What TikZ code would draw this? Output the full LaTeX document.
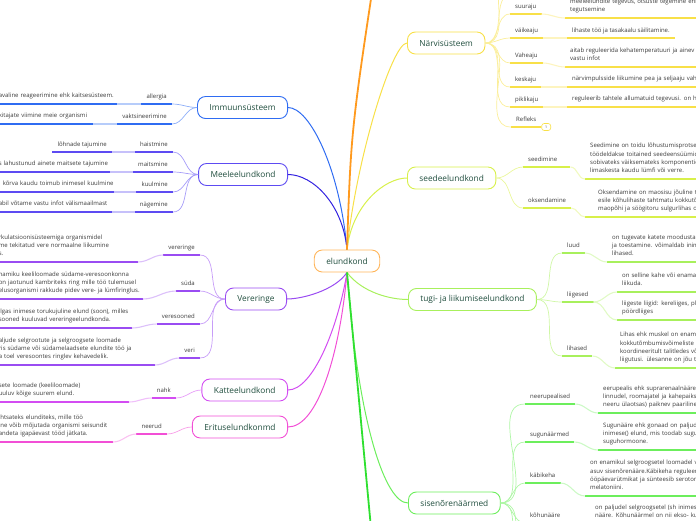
\documentclass[tikz,border=0pt]{standalone}
\usepackage{fontspec}
\setmainfont{Open Sans}
\usetikzlibrary{calc}
\hyphenpenalty=10000
\exhyphenpenalty=10000

\definecolor{clrText}{HTML}{1F4D3D}
\definecolor{clrLeaf}{HTML}{3A3A3A}
\definecolor{clrRoot}{HTML}{FFB65C}
\definecolor{clrRootLn}{HTML}{FF9A1E}
\definecolor{clrImmu}{HTML}{2F6CF2}
\definecolor{clrMeele}{HTML}{5D4BF2}
\definecolor{clrMeeleLn}{HTML}{3322E0}
\definecolor{clrVere}{HTML}{9A4CF2}
\definecolor{clrKatte}{HTML}{D34CF2}
\definecolor{clrErit}{HTML}{F24FD6}
\definecolor{clrNerv}{HTML}{F8E048}
\definecolor{clrSeede}{HTML}{D8F04A}
\definecolor{clrTugi}{HTML}{A8F05C}
\definecolor{clrSise}{HTML}{6CEE5C}
\definecolor{clrSiseLn}{HTML}{2FE030}
\colorlet{br}{black}

\tikzstyle{mainbox}=[draw, rounded corners=8pt, fill=white, line width=0.9pt,
minimum height=22pt, inner xsep=12pt, text=clrText, font=\fontsize{8.3}{10}\selectfont]
\tikzstyle{uline}=[draw=br, line width=1.6pt]
\tikzstyle{leaf}=[inner xsep=5pt, inner ysep=2.9pt, text=clrLeaf, font=\fontsize{6}{8.4}\selectfont,
execute at end node=\strut,
append after command={(\tikzlastnode.south west) edge[uline] (\tikzlastnode.south east)}]
\tikzstyle{leaf_l}=[leaf, anchor=south east]
\tikzstyle{leaf_r}=[leaf, anchor=south west]
\tikzstyle{note_l}=[leaf_l, inner xsep=0pt, inner ysep=3.3pt, align=left] % cut by the left border
\tikzstyle{note_r}=[leaf_r, inner ysep=3.3pt, align=left, text width=160pt] % cut by the right border
\tikzstyle{link}=[line width=1pt]
\tikzstyle{trunk}=[line width=1.8pt]
\tikzstyle{twig}=[draw=br!55, line width=0.7pt]
\tikzstyle{twig_lt}=[draw=br!35, line width=1.1pt]

\begin{document}
\begin{tikzpicture}[x=1pt, y=-1pt]
	\useasboundingbox (0,0) rectangle (696,520);

	\node[mainbox, draw=clrRoot] (root) at (347,261) {elundkond};

	\node[mainbox, draw=clrImmu, anchor=east] (immu) at (288,107.5) {Immuunsüsteem};
	\draw[link, clrImmu] (root.north) .. controls ($(root.north)+(-7,-80)$) and ($(immu.east)+(22,0)$) .. (immu.east);

	\node[mainbox, draw=clrMeele, anchor=east] (meele) at (288,174.5) {Meeleelundkond};
	\draw[link, clrMeeleLn] (root.north) .. controls ($(root.north)+(-4,-45)$) and ($(meele.east)+(25,0)$) .. (meele.east);

	\node[mainbox, draw=clrNerv, anchor=west] (nerv) at (407,43) {Närvisüsteem};
	\draw[link, clrNerv] (root.north) .. controls ($(root.north)+(9,-90)$) and ($(nerv.west)+(-15,0)$) .. (nerv.west);

	\node[mainbox, draw=clrSeede, anchor=west] (seede) at (407,178) {seedeelundkond};
	\draw[link, clrSeede] (root.north) .. controls ($(root.north)+(5,-45)$) and ($(seede.west)+(-22,0)$) .. (seede.west);

	\node[mainbox, draw=clrVere, anchor=east] (vere) at (287,299) {Vereringe};
	\draw[link, clrVere] (root.south) .. controls ($(root.south)+(-12,18)$) and ($(vere.east)+(15,0)$) .. (vere.east);

	\node[mainbox, draw=clrKatte, anchor=east] (katte) at (288,390) {Katteelundkond};
	\draw[link, clrKatte] (root.south) .. controls ($(root.south)+(-9,55)$) and ($(katte.east)+(25,0)$) .. (katte.east);

	\node[mainbox, draw=clrErit, anchor=east] (erit) at (288,427) {Erituselundkonmd};
	\draw[link, clrErit] (root.south) .. controls ($(root.south)+(-7,80)$) and ($(erit.east)+(30,0)$) .. (erit.east);

	\node[mainbox, draw=clrTugi, anchor=west] (tugi) at (408,299.5) {tugi- ja liikumiseelundkond};
	\draw[link, clrTugi] (root.south) .. controls ($(root.south)+(15,20)$) and ($(tugi.west)+(-18,0)$) .. (tugi.west);

	\node[mainbox, draw=clrSise, anchor=west] (sise) at (408,503) {sisenõrenäärmed};
	\draw[link, clrSise] (root.south) .. controls ($(root.south)+(11,150)$) and ($(sise.west)+(-23,0)$) .. (sise.west);

	% branches leaving the page
	\coordinate (up) at (380,-60);
	\draw[trunk, clrRootLn] (root.north) .. controls ($(root.north)+(4,-120)$) .. (up);
	\coordinate (down) at (374,560);
	\draw[trunk, clrSiseLn] (root.south) -- (down);

	% Immuunsüsteem
	\begin{scope}
		\colorlet{br}{clrImmu}
		\node[leaf_l] (im1) at (172,104) {allergia};
		\draw[twig] (immu.west) to[out=180,in=0] (im1.south east);
		\node[note_l, text width=118pt] (im1n) at (117,104) {\mbox{avaline reageerimine ehk kaitsesüsteem.}};
		\draw[twig_lt] (im1.south west) -- (im1n.south east);

		\node[leaf_l] (im2) at (172,124) {vaktsineerimine};
		\draw[twig] (immu.west) to[out=180,in=0] (im2.south east);
		\node[note_l, text width=94pt] (im2n) at (93,124) {\mbox{kitajate viimine meie organismi}};
		\draw[twig_lt] (im2.south west) -- (im2n.south east);
	\end{scope}

	% Meeleelundkond
	\begin{scope}
		\colorlet{br}{clrMeele}
		\node[leaf_l] (me1) at (173,152) {haistmine};
		\draw[twig] (meele.west) to[out=180,in=0] (me1.south east);
		\node[leaf_l] (me1n) at (112,152) {lõhnade tajumine};
		\draw[twig_lt] (me1.south west) -- (me1n.south east);

		\node[leaf_l] (me2) at (173,172) {maitsmine};
		\draw[twig] (meele.west) to[out=180,in=0] (me2.south east);
		\node[note_l, text width=111pt] (me2n) at (110,172) {\mbox{s lahustunud ainete maitsete tajumine}};
		\draw[twig_lt] (me2.south west) -- (me2n.south east);

		\node[leaf_l] (me3) at (173,192) {kuulmine};
		\draw[twig] (meele.west) to[out=180,in=0] (me3.south east);
		\node[note_l, text width=115pt] (me3n) at (114,192) {\mbox{\hspace*{4pt}kõrva kaudu toimub inimesel kuulmine}};
		\draw[twig_lt] (me3.south west) -- (me3n.south east);

		\node[leaf_l] (me4) at (173,212) {nägemine};
		\draw[twig] (meele.west) to[out=180,in=0] (me4.south east);
		\node[note_l, text width=113pt] (me4n) at (112,212) {\mbox{abil võtame vastu infot välismaailmast}};
		\draw[twig_lt] (me4.south west) -- (me4n.south east);
	\end{scope}

	% Vereringe
	\begin{scope}
		\colorlet{br}{clrVere}
		\node[leaf_l] (ve1) at (200,255) {vereringe};
		\draw[twig] (vere.west) to[out=180,in=0] (ve1.south east);
		\node[note_l, text width=139pt] (ve1n) at (138,262) {\mbox{rkulatsioonisüsteemiga organismidel}\\\mbox{me tekitatud vere normaalne liikumine}\\s.};
		\draw[twig_lt] (ve1.south west) to[out=180,in=0] (ve1n.south east);

		\node[leaf_l] (ve2) at (200,291) {süda};
		\draw[twig] (vere.west) to[out=180,in=0] (ve2.south east);
		\node[note_l, text width=144pt] (ve2n) at (143,299) {\mbox{namiku keeliloomade südame-veresoonkonna}\\\mbox{on jaotunud kambriteks ring mille töö tulemusel}\\\mbox{elusorganismi rakkude pidev vere- ja lümfiringlus.}};
		\draw[twig_lt] (ve2.south west) to[out=180,in=0] (ve2n.south east);

		\node[leaf_l] (ve3) at (200,324) {veresooned};
		\draw[twig] (vere.west) to[out=180,in=0] (ve3.south east);
		\node[note_l, text width=133pt] (ve3n) at (132,328) {\mbox{ilgas inimese torukujuline elund (soon), milles}\\\mbox{sooned kuuluvad vereringeelundkonda.}};
		\draw[twig_lt] (ve3.south west) to[out=180,in=0] (ve3n.south east);

		\node[leaf_l] (ve4) at (200,358) {veri};
		\draw[twig] (vere.west) to[out=180,in=0] (ve4.south east);
		\node[note_l, text width=156pt] (ve4n) at (155,365) {\mbox{aljude selgrootute ja selgroogsete loomade}\\\mbox{ris südame või südamelaadsete elundite töö ja}\\\mbox{a toel veresoontes ringlev kehavedelik.}};
		\draw[twig_lt] (ve4.south west) to[out=180,in=0] (ve4n.south east);
	\end{scope}

	% Katteelundkond
	\begin{scope}
		\colorlet{br}{clrKatte}
		\node[leaf_l] (ka1) at (176,398) {nahk};
		\draw[twig] (katte.west) to[out=180,in=0] (ka1.south east);
		\node[note_l, text width=130pt] (ka1n) at (129,402) {\mbox{sete loomade (keeliloomade)}\\\mbox{uuluv kõige suurem elund.}};
		\draw[twig_lt] (ka1.south west) to[out=180,in=0] (ka1n.south east);
	\end{scope}

	% Erituselundkond
	\begin{scope}
		\colorlet{br}{clrErit}
		\node[leaf_l] (er1) at (167,434) {neerud};
		\draw[twig] (erit.west) to[out=180,in=0] (er1.south east);
		\node[note_l, text width=114pt] (er1n) at (113,442) {\mbox{ihtsateks elunditeks, mille töö}\\\mbox{ine võib mõjutada organismi seisundit}\\\mbox{andeta igapäevast tööd jätkata.}};
		\draw[twig_lt] (er1.south west) to[out=180,in=0] (er1n.south east);
	\end{scope}

	% Närvisüsteem
	\begin{scope}
		\colorlet{br}{clrNerv}
		\coordinate (nv0) at (512,-6);
		\coordinate (nv00) at (512,-30);
		\draw[twig] (nerv.east) to[out=0,in=180] (nv0);
		\draw[twig] (nerv.east) to[out=0,in=180] (nv00);

		\node[leaf_r] (nv1) at (510,14) {suuraju};
		\draw[twig] (nerv.east) to[out=0,in=180] (nv1.south west);
		\node[note_r] (nv1n) at (565,18) {meeleelundite tegevus, otsuste tegemine ehk\\tegutsemine};
		\draw[twig_lt] (nv1.south east) to[out=0,in=180] (nv1n.south west);

		\node[leaf_r] (nv2) at (510,38) {väikeaju};
		\draw[twig] (nerv.east) to[out=0,in=180] (nv2.south west);
		\node[leaf_r] (nv2n) at (567,38) {lihaste töö ja tasakaalu säilitamine.};
		\draw[twig_lt] (nv2.south east) -- (nv2n.south west);

		\node[leaf_r] (nv3) at (510,63) {Vaheaju};
		\draw[twig] (nerv.east) to[out=0,in=180] (nv3.south west);
		\node[note_r] (nv3n) at (565,67) {aitab reguleerida kehatemperatuuri ja ainev\\vastu infot};
		\draw[twig_lt] (nv3.south east) to[out=0,in=180] (nv3n.south west);

		\node[leaf_r] (nv4) at (510,87) {keskaju};
		\draw[twig] (nerv.east) to[out=0,in=180] (nv4.south west);
		\node[note_r] (nv4n) at (567,87) {närvimpulsside liikumine pea ja seljaaju vahe};
		\draw[twig_lt] (nv4.south east) -- (nv4n.south west);

		\node[leaf_r] (nv5) at (510,107) {piklikaju};
		\draw[twig] (nerv.east) to[out=0,in=180] (nv5.south west);
		\node[note_r] (nv5n) at (567,107) {reguleerib tahtele allumatuid tegevusi. on hin};
		\draw[twig_lt] (nv5.south east) -- (nv5n.south west);

		\node[leaf_r] (nv6) at (511,127) {Refleks};
		\draw[twig] (nerv.east) to[out=0,in=180] (nv6.south west);
		\node[draw=br, fill=white, rounded corners=2.5pt, line width=0.6pt, minimum width=9pt, minimum height=7pt,
			inner sep=0pt, anchor=west, text=clrLeaf, font=\fontsize{3.5}{4}\selectfont] (nv6c) at (nv6.south east) {1};
	\end{scope}

	% seedeelundkond
	\begin{scope}
		\colorlet{br}{clrSeede}
		\node[leaf_r, text width=37pt, align=left] (sd1) at (523,167) {seedimine};
		\draw[twig] (seede.east) to[out=0,in=180] (sd1.south west);
		\node[note_r] (sd1n) at (585,179) {Seedimine on toidu lõhustumisprotses\\töödeldakse toitained seedeensüümid\\sobivateks väiksemateks komponentid\\limaskesta kaudu lümfi või verre.};
		\draw[twig_lt] (sd1.south east) to[out=0,in=180] (sd1n.south west);

		\node[leaf_r] (sd2) at (523,208) {oksendamine};
		\draw[twig] (seede.east) to[out=0,in=180] (sd2.south west);
		\node[note_r, inner xsep=13pt] (sd2n) at (585,217) {Oksendamine on maosisu jõuline ta\\esile kõhulihaste tahtmatu kokkutõ\\maopõhi ja söögitoru sulgurlihas on};
		\draw[twig_lt] (sd2.south east) to[out=0,in=180] (sd2n.south west);
	\end{scope}

	% tugi- ja liikumiseelundkond
	\begin{scope}
		\colorlet{br}{clrTugi}
		\node[leaf_r] (tg1) at (562,253) {luud};
		\draw[twig] (tugi.east) to[out=0,in=180] (tg1.south west);
		\node[note_r] (tg1n) at (607,262) {on tugevate katete moodustam\\ja toestamine. võimaldab inime\\lihased.};
		\draw[twig_lt] (tg1.south east) to[out=0,in=180] (tg1n.south west);

		\node[leaf_r] (tg2) at (562,302) {liigesed};
		\draw[twig] (tugi.east) to[out=0,in=180] (tg2.south west);
		\node[note_r] (tg2n) at (617,292) {on selline kahe või enama l\\liikuda.};
		\draw[twig_lt] (tg2.south east) to[out=0,in=180] (tg2n.south west);
		\node[note_r] (tg2m) at (617,320) {liigeste liigid: kereliiges, plo\\pöördliiges};
		\draw[twig_lt] (tg2.south east) to[out=0,in=180] (tg2m.south west);

		\node[leaf_r] (tg3) at (562,356) {lihased};
		\draw[twig] (tugi.east) to[out=0,in=180] (tg3.south west);
		\node[note_r] (tg3n) at (615,368) {Lihas ehk muskel on enamik\\kokkutõmbumisvõimeliste li\\koordineeritult talitledes võ\\liigutusi. ülesanne on jõu too};
		\draw[twig_lt] (tg3.south east) to[out=0,in=180] (tg3n.south west);
	\end{scope}

	% sisenõrenäärmed
	\begin{scope}
		\colorlet{br}{clrSise}
		\node[leaf_r] (ss1) at (525,404) {neerupealised};
		\draw[twig] (sise.east) to[out=0,in=180] (ss1.south west);
		\node[note_r] (ss1n) at (598,413) {eerupealis ehk suprarenaalnääre\\linnudel, roomajatel ja kahepaiksel\\neeru ülaotsas) paiknev paariline};
		\draw[twig_lt] (ss1.south east) to[out=0,in=180] (ss1n.south west);

		\node[leaf_r] (ss2) at (525,442) {sugunäärmed};
		\draw[twig] (sise.east) to[out=0,in=180] (ss2.south west);
		\node[note_r] (ss2n) at (598,450) {Sugunääre ehk gonaad on paljude\\inimese() elund, mis toodab sugur\\suguhormoone.};
		\draw[twig_lt] (ss2.south east) to[out=0,in=180] (ss2n.south west);

		\node[leaf_r] (ss3) at (525,483) {käbikeha};
		\draw[twig] (sise.east) to[out=0,in=180] (ss3.south west);
		\node[note_r] (ss3n) at (585,496) {on enamikul selgroogsetel loomadel va\\asuv sisenõrenääre.Käbikeha reguleer\\ööpäevarütmikat ja sünteesib serotoni\\melatoniini.};
		\draw[twig_lt] (ss3.south east) to[out=0,in=180] (ss3n.south west);

		\node[leaf_r] (ss4) at (525,523) {kõhunääre};
		\draw[twig] (sise.east) to[out=0,in=180] (ss4.south west);
		\node[note_r] (ss4n) at (590,524) {on paljudel selgroogsetel (sh inimest\\nääre. Kõhunäärmel on nii ekso- kui k};
		\draw[twig_lt] (ss4.south east) to[out=0,in=180] (ss4n.south west);

		\coordinate (ss5) at (525,560);
		\coordinate (ss6) at (525,600);
		\draw[twig] (sise.east) to[out=0,in=180] (ss5);
		\draw[twig] (sise.east) to[out=0,in=180] (ss6);
	\end{scope}

\end{tikzpicture}
\end{document}
